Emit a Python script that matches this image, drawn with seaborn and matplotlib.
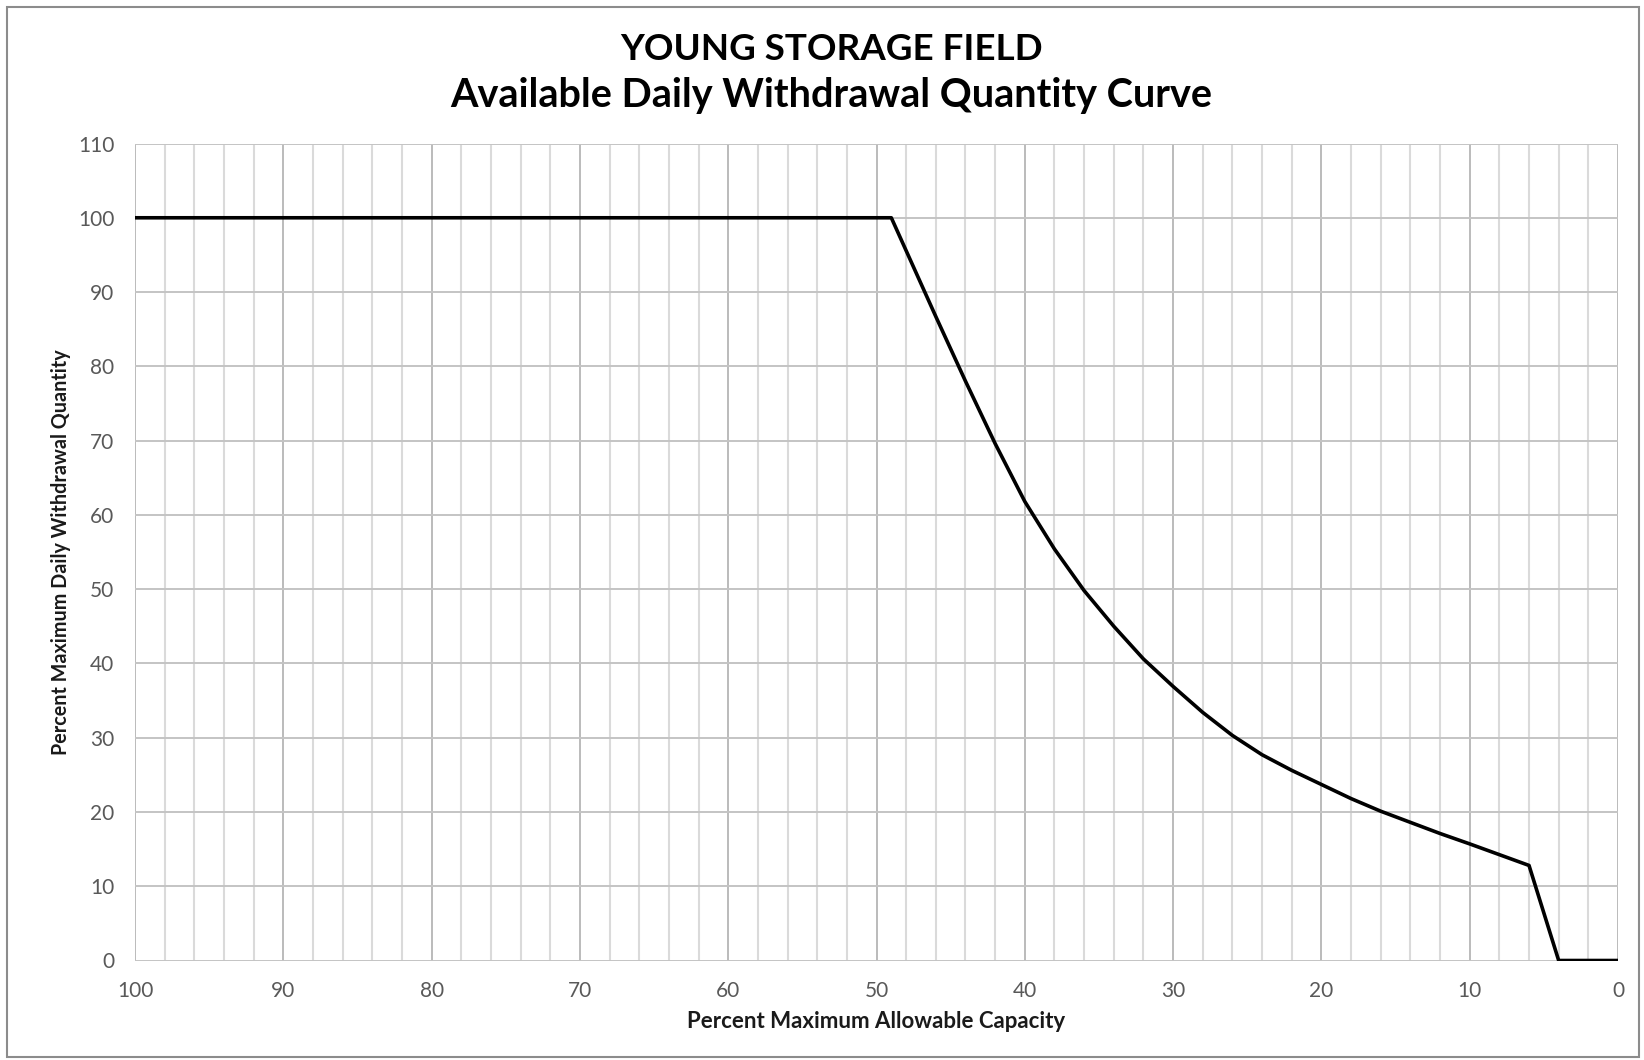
import matplotlib
matplotlib.use("Agg")
import matplotlib.pyplot as plt
from matplotlib.patches import Rectangle
from matplotlib.ticker import MultipleLocator
import seaborn as sns
import pandas as pd

# ---- data ----
capacity_pct = [100, 49, 46, 44, 42, 40, 38, 36, 34, 32, 30, 28, 26, 24,
                22, 20, 18, 16, 14, 12, 10, 8, 6, 4, 0]
withdrawal_pct = [100, 100, 86.7, 78.0, 69.6, 61.8, 55.4, 49.8, 45.0, 40.6,
                  36.9, 33.4, 30.3, 27.7, 25.6, 23.7, 21.8, 20.1, 18.6, 17.1,
                  15.7, 14.25, 12.8, 0, 0]
x_ticks = [100, 90, 80, 70, 60, 50, 40, 30, 20, 10, 0]
y_ticks = [0, 10, 20, 30, 40, 50, 60, 70, 80, 90, 100, 110]
title_lines = ["YOUNG STORAGE FIELD", "Available Daily Withdrawal Quantity Curve"]
x_label = "Percent Maximum Allowable Capacity"
y_label = "Percent Maximum Daily Withdrawal Quantity"

df = pd.DataFrame({"cap": capacity_pct, "wd": withdrawal_pct})

sns.set_style("white")
plt.rcParams["font.family"] = ["Lato", "DejaVu Sans"]

W, H = 1644, 1060
fig = plt.figure(figsize=(W / 100, H / 100), dpi=100)
L, R, T, B = 135, 1618, 143.5, 960.5
ax = fig.add_axes([L / W, 1 - B / H, (R - L) / W, (B - T) / H])

# grid
ax.set_xlim(100, 0)
ax.set_ylim(0, 110)
ax.xaxis.set_major_locator(MultipleLocator(10))
ax.xaxis.set_minor_locator(MultipleLocator(2))
ax.yaxis.set_major_locator(MultipleLocator(10))
ax.grid(which="minor", axis="x", color="#dadada", lw=1.5, zorder=0)
ax.grid(which="major", axis="x", color="#a8a8a8", lw=1.1, zorder=0)
ax.grid(which="major", axis="y", color="#c4c4c4", lw=1.4, zorder=0)
ax.set_axisbelow(True)

sns.lineplot(data=df, x="cap", y="wd", sort=False, color="black", lw=2.6,
             ax=ax, zorder=3)

ax.set_xticks(x_ticks)
ax.set_yticks(y_ticks)
ax.set_xticklabels([str(v) for v in x_ticks])
ax.set_yticklabels([str(v) for v in y_ticks])
ax.tick_params(axis="both", which="major", length=6, width=1.1, color="#a8a8a8",
               labelsize=15, labelcolor="#595959", direction="out")
ax.tick_params(axis="both", which="minor", length=0)
ax.tick_params(axis="x", pad=9)
ax.tick_params(axis="y", pad=9)

for s in ax.spines.values():
    s.set_visible(False)

ax.set_xlabel(x_label, fontsize=16, fontweight="bold", color="#1a1a1a", labelpad=7)
ax.set_ylabel(y_label, fontsize=14.2, fontweight="bold", color="#1a1a1a", labelpad=5)

fig.text(831 / W, 1 - 49 / H, title_lines[0], ha="center", va="center",
         fontsize=26.5, fontweight="bold", color="black")
fig.text(831 / W, 1 - 95 / H, title_lines[1], ha="center", va="center",
         fontsize=28.5, fontweight="bold", color="black")

fig.patches.append(Rectangle((7 / W, 3 / H), (W - 12) / W, (H - 10) / H,
                             transform=fig.transFigure, fill=False,
                             edgecolor="#8c8c8c", lw=1.5))

fig.savefig("out.png", dpi=100)
